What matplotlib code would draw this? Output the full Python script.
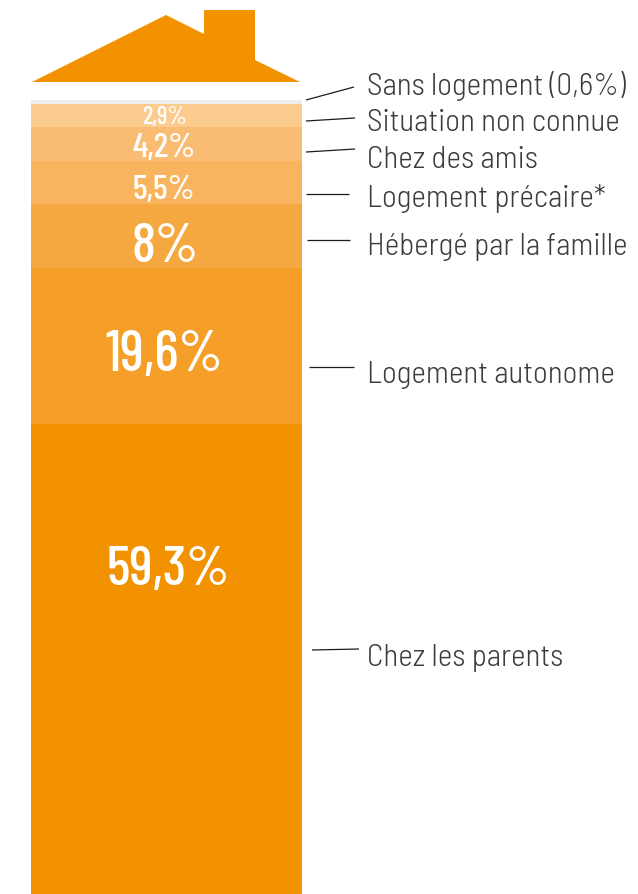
import matplotlib
matplotlib.use("Agg")
import matplotlib.pyplot as plt

W, H = 638, 895

# du bas vers le haut de la maison
categories = ["Chez les parents", "Logement autonome", "Hébergé par la famille",
              "Logement précaire*", "Chez des amis", "Situation non connue",
              "Sans logement (0,6%)"]
values = [59.3, 19.6, 8, 5.5, 4.2, 2.9, 0.6]
value_labels = ["59,3%", "19,6%", "8%", "5,5%", "4,2%", "2,9%", ""]
colors = ["#F39200", "#F59F28", "#F6A840", "#F8B45E", "#FABC72", "#FCCB8E", "#EDEDED"]
label_sizes = [40, 41, 40, 25, 25, 18, 0]
label_x = [168, 164, 165, 164, 164, 164, 0]
label_y = [570, 355, 247, 189, 147, 117, 0]

# reperes en pixels de l'image
text_y = [657, 374, 246, 198, 159, 122, 85]
lines = [((312, 650), (359, 649)), ((309, 367), (354, 367)), ((307, 240), (350, 240)),
         ((306, 194), (349, 194)), ((306, 152), (355, 149)), ((306, 121), (355, 118)),
         ((306, 100), (354, 87))]
roof = [(32, 82), (166, 15), (204, 34), (204, 10), (255, 10), (255, 60), (300, 82)]

label_font = ["Barlow Semi Condensed", "Liberation Sans", "DejaVu Sans"]
value_font = ["Barlow Condensed", "Liberation Sans", "DejaVu Sans"]

fig = plt.figure(figsize=(W / 100, H / 100), dpi=100, facecolor="white")

# colonne empilee : 7.95 px pour 1 %
ax = fig.add_axes([31 / W, -1.5 / H, 271 / W, 796 / H])
bottom = 0
for v, c in zip(values, colors):
    ax.bar(0, v, width=1, bottom=bottom, color=c, linewidth=0)
    bottom += v
ax.set_xlim(-0.5, 0.5)
ax.set_ylim(0, sum(values))
ax.axis("off")

# calque en pixels pour le toit, les filets et les textes
over = fig.add_axes([0, 0, 1, 1])
over.set_xlim(0, W)
over.set_ylim(H - 1, -1)
over.axis("off")
over.patch.set_alpha(0)
over.fill([p[0] for p in roof], [p[1] for p in roof], color="#F39200", linewidth=0)

for name, ty, (a, b), lab, size, lx, ly in zip(categories, text_y, lines, value_labels,
                                               label_sizes, label_x, label_y):
    over.plot([a[0], b[0]], [a[1], b[1]], color="#1d1d1b", linewidth=0.9, solid_capstyle="butt")
    over.text(367, ty, name, fontsize=22.5, color="#3c3c3b", va="center", ha="left",
              family=label_font, fontweight=300)
    if lab:
        over.text(lx, ly, lab, fontsize=size, color="white", va="center", ha="center",
                  family=value_font, fontweight=500)

fig.savefig("out.png", dpi=100)
